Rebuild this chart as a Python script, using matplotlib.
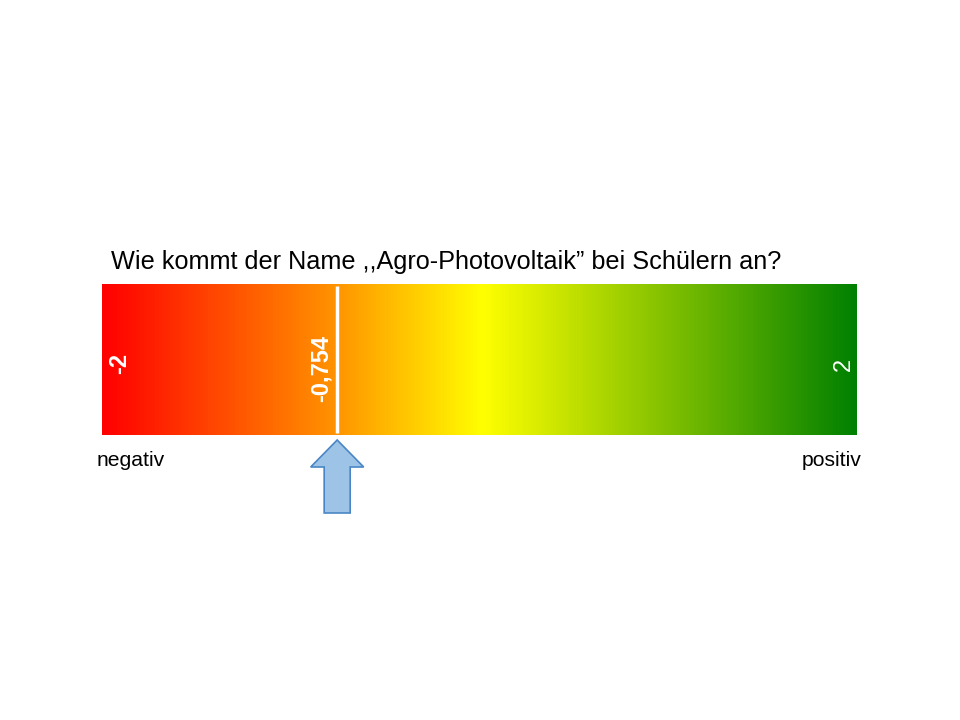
import numpy as np
import matplotlib.pyplot as plt
from matplotlib.colors import LinearSegmentedColormap
from matplotlib.patches import Polygon

# data
title = 'Wie kommt der Name ,,Agro-Photovoltaik\u201d bei Schülern an?'
scale_min = -2
scale_max = 2
mean_value = -0.754
label_low = 'negativ'
label_high = 'positiv'

plt.rcParams['font.family'] = ['Liberation Sans', 'DejaVu Sans']

fig = plt.figure(figsize=(9.6, 7.2), dpi=100)
W, H = 960, 720

# bar axes in pixel placement
x0, x1, ytop, ybot = 102, 857, 284, 435
ax = fig.add_axes([x0 / W, 1 - ybot / H, (x1 - x0) / W, (ybot - ytop) / H])

cmap = LinearSegmentedColormap.from_list(
    'rg', [(0.0, '#ff0000'), (0.31, '#ff9400'), (0.505, '#ffff00'),
           (1.0, '#008000')])
grad = np.linspace(0, 1, 512).reshape(1, -1)
ax.imshow(grad, cmap=cmap, aspect='auto',
          extent=(scale_min, scale_max, 0, 1))
ax.set_xlim(scale_min, scale_max)
ax.set_ylim(0, 1)
ax.axis('off')

# pixel -> data units
px = (scale_max - scale_min) / (x1 - x0)
py = 1 / (ybot - ytop)

# marker line
ax.plot([mean_value, mean_value], [0.015, 0.985], color='white', lw=2.5,
        solid_capstyle='butt')

# labels in bar
ax.text(scale_min + 18 * px, 1 - 79 * py, str(scale_min), rotation=90,
        color='white', fontsize=17, fontweight='bold',
        ha='center', va='center')
ax.text(mean_value - 16 * px, 1 - 85 * py, f'{mean_value}'.replace('.', ','),
        rotation=90, color='white', fontsize=17, fontweight='bold',
        ha='center', va='center')
ax.text(scale_max - 13 * px, 1 - 80 * py, str(scale_max), rotation=90,
        color='white', fontsize=17, ha='center', va='center')

# arrow below the marker
hw, sw = 26.5 * px, 13 * px
tip, hb, bot = -5 * py, -32 * py, -78 * py
arrow = Polygon([(mean_value, tip), (mean_value + hw, hb),
                 (mean_value + sw, hb), (mean_value + sw, bot),
                 (mean_value - sw, bot), (mean_value - sw, hb),
                 (mean_value - hw, hb)],
                closed=True, facecolor='#9dc3e6', edgecolor='#4a86c5',
                lw=1.2, clip_on=False)
ax.add_patch(arrow)

# texts
fig.text(111 / W, 1 - 262 / H, title, fontsize=18.2, va='center', ha='left')
fig.text(97 / W, 1 - 461 / H, label_low, fontsize=15.2, va='center',
         ha='left')
fig.text(862 / W, 1 - 461 / H, label_high, fontsize=15.2, va='center',
         ha='right')

fig.savefig('out.png', dpi=100)
